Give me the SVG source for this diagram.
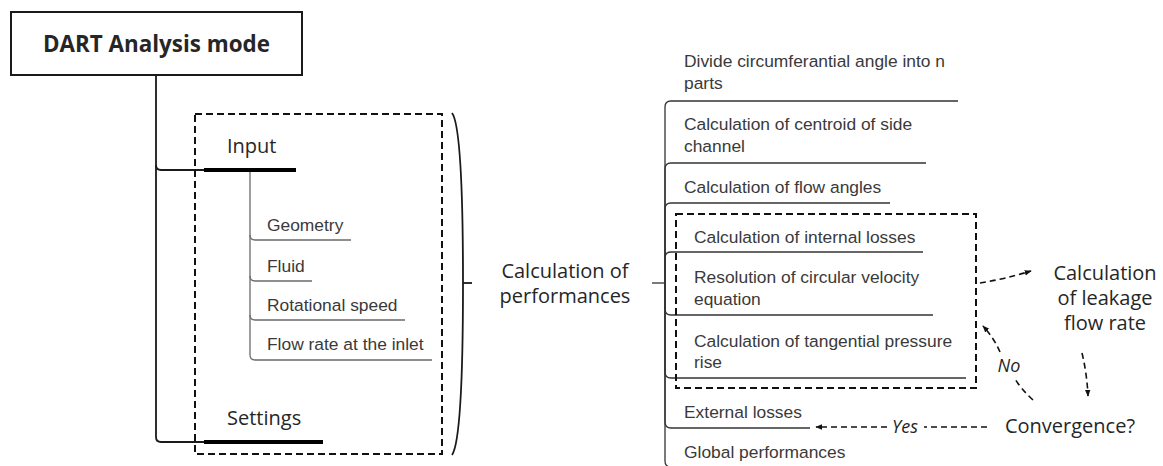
<svg xmlns="http://www.w3.org/2000/svg" width="1163" height="466" viewBox="0 0 1163 466">
<style>
.h{font-family:"Open Sans","Liberation Sans",sans-serif;font-size:20px;fill:#262626}
.t{font-family:"Liberation Sans",Arial,sans-serif;font-size:17.4px;fill:#3a3a3a}
.it{font-family:"Open Sans","Liberation Sans",sans-serif;font-size:18px;font-style:italic;fill:#262626}
.main{fill:none;stroke:#1a1a1a;stroke-width:1.8}
.sub{fill:none;stroke:#6a6a6a;stroke-width:1.3}
.rt{fill:none;stroke:#333;stroke-width:1.3}
.thick{fill:none;stroke:#000;stroke-width:4}
.dbox{fill:none;stroke:#111;stroke-width:2;stroke-dasharray:7,4}
.darr{fill:none;stroke:#111;stroke-width:1.6;stroke-dasharray:6,4}
</style>
<defs>
<marker id="ah" viewBox="0 0 10 10" refX="9" refY="5" markerWidth="7" markerHeight="7" orient="auto" markerUnits="userSpaceOnUse">
<path d="M0,1 L10,5 L0,9 Z" fill="#111"/>
</marker>
</defs>
<rect width="1163" height="466" fill="#fff"/>

<g id="connectors">
<path class="main" d="M156,75 V165 Q156,170 161,170 H205"/>
<path class="main" d="M156,165 V437 Q156,442 161,442 H205"/>
<path class="sub" d="M250,172 V355 Q250,360 255,360 H432"/>
<path class="sub" d="M250,235 Q250,240 255,240 H351"/>
<path class="sub" d="M250,276 Q250,281 255,281 H312"/>
<path class="sub" d="M250,315 Q250,320 255,320 H405"/>
<path class="main" d="M452,113 C461,125 463,200 463,283 C463,370 461,442 452,455"/>
<path class="main" d="M463,283 H472"/>
<path class="rt" d="M652,283 H665"/>
<path class="rt" d="M665,283 V107 Q665,101 671,101 H958"/>
<path class="rt" d="M665,283 V169 Q665,163 671,163 H926"/>
<path class="rt" d="M665,283 V209 Q665,203 671,203 H890"/>
<path class="rt" d="M665,283 V258 Q665,252 671,252 H923"/>
<path class="rt" d="M665,283 V309 Q665,315 671,315 H933"/>
<path class="rt" d="M665,283 V372 Q665,378 671,378 H966"/>
<path class="rt" d="M665,283 V422 Q665,428 671,428 H810"/>
<path class="rt" d="M665,283 V461 Q665,467 671,467 H850"/>
<path class="darr" d="M980,283 Q1005,279 1031,271" marker-end="url(#ah)"/>
<path class="darr" d="M1082,353 Q1087,374 1088,396" marker-end="url(#ah)"/>
<path class="darr" d="M1033,400 Q1022,390 1015,379"/>
<path class="darr" d="M1000,352 Q994,338 983,326" marker-end="url(#ah)"/>
<path class="darr" d="M987,427 H924"/>
<path class="darr" d="M887,427 H816" marker-end="url(#ah)"/>
</g>

<g id="dart">
<rect x="11" y="12" width="291" height="63" fill="#fff" stroke="#1a1a1a" stroke-width="2"/>
<text class="h" x="156.5" y="52" text-anchor="middle" style="font-size:22.4px;font-weight:700">DART Analysis mode</text>
</g>

<g id="inputs-box">
<rect class="dbox" x="195" y="114" width="247" height="340"/>
</g>

<g id="input">
<text class="h" x="227" y="153">Input</text>
<path class="thick" d="M204,170 H296"/>
</g>
<g id="settings">
<text class="h" x="227" y="425">Settings</text>
<path class="thick" d="M204,442 H323"/>
</g>
<g id="geometry"><text class="t" x="267" y="231">Geometry</text></g>
<g id="fluid"><text class="t" x="267" y="272">Fluid</text></g>
<g id="rotational-speed"><text class="t" x="267" y="311">Rotational speed</text></g>
<g id="flow-rate"><text class="t" x="267" y="350">Flow rate at the inlet</text></g>

<g id="calc-performances">
<text class="h" x="565" y="278" text-anchor="middle">Calculation of</text>
<text class="h" x="565" y="303" text-anchor="middle">performances</text>
</g>

<g id="divide"><text class="t" x="684" y="67">Divide circumferantial angle into n</text><text class="t" x="684" y="89">parts</text></g>
<g id="centroid"><text class="t" x="684" y="130">Calculation of centroid of side</text><text class="t" x="684" y="152">channel</text></g>
<g id="flow-angles"><text class="t" x="684" y="193">Calculation of flow angles</text></g>
<g id="loop-box"><rect class="dbox" x="676" y="214" width="300" height="174"/></g>
<g id="internal-losses"><text class="t" x="694" y="243">Calculation of internal losses</text></g>
<g id="circular-velocity"><text class="t" x="694" y="283">Resolution of circular velocity</text><text class="t" x="694" y="305">equation</text></g>
<g id="pressure-rise"><text class="t" x="694" y="347">Calculation of tangential pressure</text><text class="t" x="694" y="368">rise</text></g>
<g id="external-losses"><text class="t" x="684" y="418">External losses</text></g>
<g id="global-performances"><text class="t" x="684" y="458">Global performances</text></g>

<g id="leakage">
<text class="h" x="1105" y="280" text-anchor="middle">Calculation</text>
<text class="h" x="1105" y="305" text-anchor="middle">of leakage</text>
<text class="h" x="1105" y="330" text-anchor="middle">flow rate</text>
</g>
<g id="convergence"><text class="h" x="1070" y="433" text-anchor="middle">Convergence?</text></g>
<g id="labels">
<text class="it" x="1009" y="372" text-anchor="middle">No</text>
<text class="it" x="905" y="433" text-anchor="middle">Yes</text>
</g>
</svg>
